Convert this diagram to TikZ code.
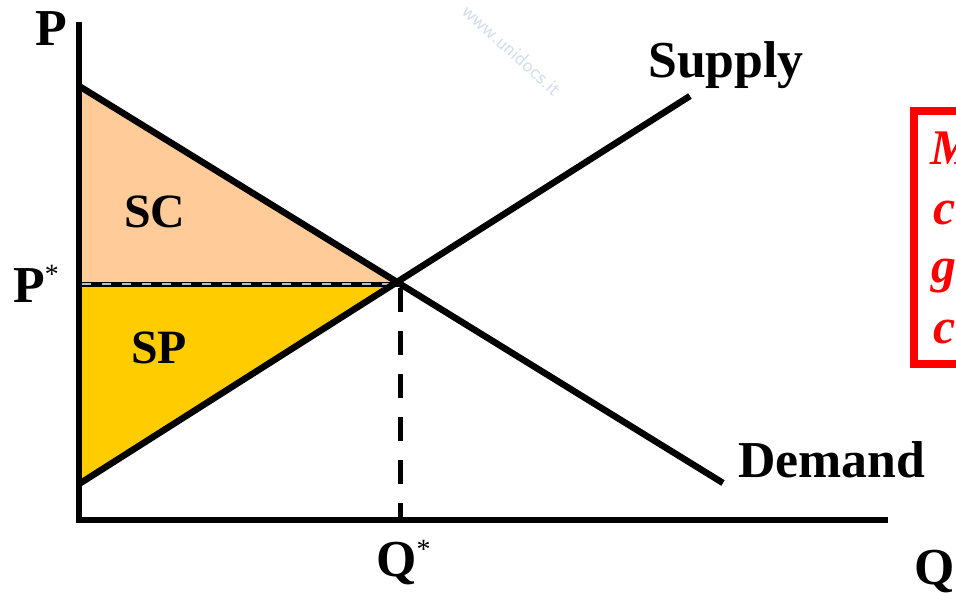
\documentclass[tikz,border=0pt]{standalone}
\usepackage{fontspec}
\setmainfont{Liberation Serif}
\definecolor{scfill}{HTML}{FFCC99}
\definecolor{spfill}{HTML}{FFCC00}
\definecolor{boxred}{HTML}{FF0000}
\definecolor{wmark}{HTML}{D2DEEC}
\newcommand{\smallast}{{\fontsize{28}{28}\selectfont\mdseries\raisebox{18bp}{*}}}
\tikzset{
  curve/.style={line width=6.5bp, line cap=butt},
  axis/.style={line width=6bp},
  biglab/.style={anchor=base west, inner sep=0pt, font=\fontsize{52}{52}\selectfont\bfseries},
  arealab/.style={anchor=base west, inner sep=0pt, font=\fontsize{48}{48}\selectfont\bfseries},
  redlab/.style={anchor=base west, inner sep=0pt, text=boxred, font=\fontsize{50}{50}\selectfont\bfseries\itshape},
}
\begin{document}
\begin{tikzpicture}[x=1bp,y=-1bp]
\useasboundingbox (0,0) rectangle (956,593);
\clip (0,0) rectangle (956,593);
\fill[white] (0,0) rectangle (956,593);
% watermark
\node[text=wmark, rotate=-42, inner sep=0pt, font=\fontsize{21}{21}\selectfont\sffamily] (wm) at (512,50) {www.unidocs.it};
% key points
\coordinate (O) at (79,520);
\coordinate (Ytop) at (79,22);
\coordinate (Ybot) at (79,523);
\coordinate (Xstart) at (76,520);
\coordinate (Xend) at (888,520);
\coordinate (Dstart) at (79,86);
\coordinate (Dend) at (723,483);
\coordinate (Sstart) at (79,484);
\coordinate (Send) at (690,96);
\coordinate (E) at (400,284);
\coordinate (Pstar) at (79,284);
\coordinate (Qstar) at (400,520);
% areas
\fill[scfill] (Dstart) -- (E) -- (Pstar) -- cycle;
\fill[spfill] (Pstar) -- (E) -- (Sstart) -- cycle;
% P* line
\draw[line width=5bp] (Pstar) -- (E);
\draw[line width=1.2bp, black!25, dash pattern=on 9bp off 11bp] (82,284) -- (390,284);
% Q* dashed line
\draw[line width=5bp, dash pattern=on 24bp off 19bp] (400,288) -- (Qstar);
% curves
\draw[curve] (Dstart) -- (Dend);
\draw[curve] (Sstart) -- (Send);
% axes
\draw[axis] (Ytop) -- (Ybot);
\draw[axis] (Xstart) -- (Xend);
% labels
\node[biglab] (Plab) at (35,46) {P};
\node[biglab] (Pslab) at (13,302) {P\smallast};
\node[biglab] (Qslab) at (376,576) {Q\smallast};
\node[biglab] (Qlab) at (914,584) {Q};
\node[biglab] (Slab) at (648,78) {Supply};
\node[biglab] (Dlab) at (738,477) {Demand};
\node[arealab] (SC) at (124,228) {SC};
\node[arealab] (SP) at (131,363) {SP};
% red box
\draw[boxred, line width=8bp] (914,111) rectangle (1000,364);
\node[redlab] (r1) at (930,165) {M};
\node[redlab] (r2) at (933,225) {c};
\node[redlab] (r3) at (931,283) {g};
\node[redlab] (r4) at (933,343) {c};
\end{tikzpicture}
\end{document}
